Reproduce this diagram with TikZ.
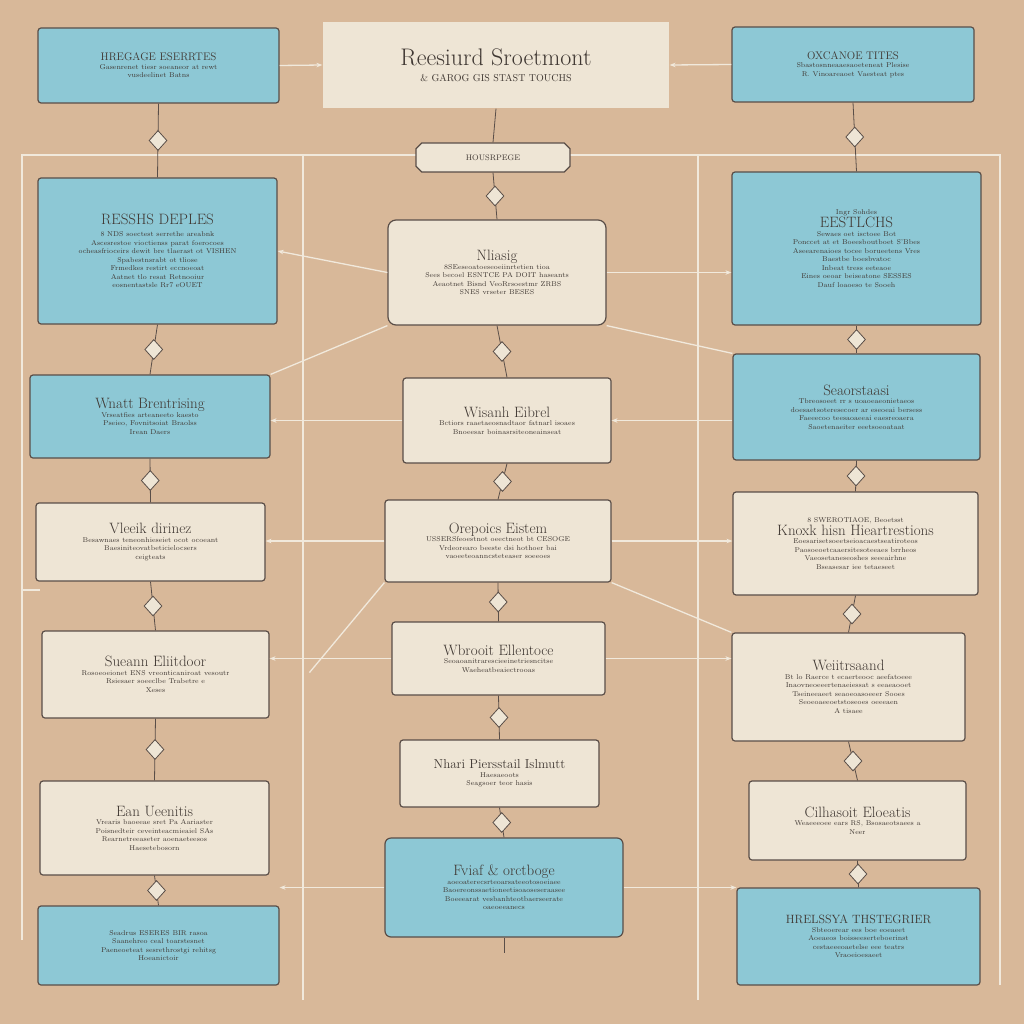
\documentclass[tikz,border=0pt]{standalone}
\usetikzlibrary{shapes.geometric,shapes.misc,arrows.meta}
\definecolor{bg}{HTML}{D8B899}
\definecolor{bl}{HTML}{8DC8D5}
\definecolor{cr}{HTML}{EEE5D5}
\definecolor{ln}{HTML}{5A4E48}
\definecolor{wl}{HTML}{F1E9DC}
\newcommand\bxt{\fontsize{15}{17}\selectfont}
\begin{document}
\begin{tikzpicture}[x=1pt,y=-1pt,
 box/.style={draw=ln,line width=1.2pt,rounded corners=3pt,align=center,font=\fontsize{7}{8.5}\selectfont,text=ln!70!black},
 bbox/.style={box,fill=bl},
 cbox/.style={box,fill=cr},
 con/.style={draw=wl,line width=1.3pt},
 arr/.style={con,-{Stealth[length=6pt]}},
 dia/.style={diamond,draw=ln,fill=cr,line width=0.8pt,minimum width=18pt,minimum height=20pt,inner sep=0pt},
 fr/.style={draw=wl,line width=1.2pt}]
\fill[bg] (0,0) rectangle (1024,1024);
% frame lines
\draw[fr] (22,940) -- (22,155) -- (416,155);
\draw[fr] (570,155) -- (1000,155) -- (1000,985);
\draw[fr] (303,155) -- (303,1000);
\draw[fr] (698,155) -- (698,1000);
\draw[fr] (22,590) -- (40,590);
% nodes
\node[cbox,minimum width=346pt,minimum height=86pt,rounded corners=0pt,draw=none] (T) at (496,65) {{\fontsize{24}{26}\selectfont Reesiurd Sroetmont}\\[8pt]{\fontsize{10}{12}\selectfont \& GAROG GIS STAST TOUCHS}};
\node[cbox,chamfered rectangle,rounded corners=0pt,minimum width=154pt,minimum height=29pt,font=\fontsize{8}{9}\selectfont] (H) at (493,157.5) {HOUSRPEGE};
\node[bbox,minimum width=241pt,minimum height=75pt] (L1) at (158.5,65.5) {{\fontsize{11}{13}\selectfont HREGAGE ESERRTES}\\Gasenrenet tiesr soeaneor at rewt\\vusdeelinet Batns};
\node[bbox,minimum width=239pt,minimum height=146pt] (L2) at (157.5,251) {{\bxt RESSHS DEPLES}\\[4pt]8 NDS soectest serrethe areabnk\\Ascesrestoe vioctienss parat foerocoes\\ocheasfrioceirs dewit bre tlaerast ot VISHEN\\Spabestnsrabt ot tliose\\Frmedkes restirt eccnoeoat\\Aatnet tlo resat Retnooiur\\eosnentastsle Rr7 eOUET};
\node[bbox,minimum width=240pt,minimum height=83pt] (L3) at (150,416.5) {{\bxt Wnatt Brentrising}\\Vrseatfies arteaneeto kaesto\\Pseieo, Fovnitsoiat Braolss\\Irean Daers};
\node[cbox,minimum width=229pt,minimum height=78pt] (L4) at (150.5,542) {{\bxt Vleeik dirinez}\\Besawnaes teneonhieseiet ocot ocoeant\\Baesiniteovatbeticielocsers\\ceigteats};
\node[cbox,minimum width=227pt,minimum height=87pt] (L5) at (155.5,674.5) {{\bxt Sueann Eliitdoor}\\Rosoeoeionet ENS vreonticaniroat vesoutr\\Rsiesaer soeeclbe Trabetre e\\Xeses};
\node[cbox,minimum width=229pt,minimum height=94pt] (L6) at (154.5,828) {{\bxt Ean Ueenitis}\\Vrearis baoeeae sret Pa Aariaster\\Poisnedteir ceveinteacmieaiel SAs\\Rearnetreeaseter aoenaeteesos\\Haesetebosorn};
\node[bbox,minimum width=241pt,minimum height=79pt] (L7) at (158.5,945.5) {Seadrus ESERES BIR rasoa\\Saanehreo ceal toarstesnet\\Paeneoeteat sesrethrostgi rehitsg\\Hoeanictoir};
\node[cbox,minimum width=218pt,minimum height=105pt,rounded corners=8pt] (C1) at (497,272.5) {{\bxt Nliasig}\\8SEeseoatoeseoeiinrtetien tioa\\Sees becoel ESNTCE PA DOIT haseants\\Aeaotnet Bisnd VeoRrsoestmr ZRBS\\SNES vrseter BESES};
\node[cbox,minimum width=208pt,minimum height=85pt] (C2) at (507,420.5) {{\bxt Wisanh Eibrel}\\Bctiors raaetaeosnadtaor fatnarl isoaes\\Bnoeesar boinasrsiteoneainseat};
\node[cbox,minimum width=226pt,minimum height=82pt] (C3) at (498,541) {{\bxt Orepoics Eistem}\\USSERSfeoestnot oeectneot bt CESOGE\\Vrdeorearo beeste dsi hothoer bai\\vaoeeteoanncsteteaser soeeoes};
\node[cbox,minimum width=213pt,minimum height=73pt] (C4) at (498.5,658.5) {{\bxt Wbrooit Ellentoce}\\Seoaoanitrarescieeinetriesncitse\\Waeheatbeaiectrooas};
\node[cbox,minimum width=199pt,minimum height=67pt] (C5) at (499.5,773.5) {{\fontsize{13}{15}\selectfont Nhari Piersstail Islmutt}\\Haesaeoots\\Seagsoer teor hasis};
\node[bbox,minimum width=238pt,minimum height=99pt,rounded corners=6pt] (C6) at (504,887.5) {{\bxt Fviaf \& orctboge}\\aoeoaterecsrteoarsateeotosoeiaee\\Baoereonssaetioneetisoaoseseraasee\\Boeeearat vesbanhteotbaerseerate\\oaeoeeanecs};
\node[bbox,minimum width=242pt,minimum height=75pt] (R1) at (853,64.5) {{\fontsize{11}{13}\selectfont OXCANOE TITES}\\Sbastosnneaaesaoeteneat Plesise\\R. Vinoareaoet Vaesteat ptes};
\node[bbox,minimum width=249pt,minimum height=153pt] (R2) at (856.5,248.5) {{\fontsize{7}{8}\selectfont Ingr Sohdes}\\{\bxt EESTLCHS}\\Sewaes oet isctoee Bot\\Ponccet at et Boeesboutboet S'Bbes\\Aseearenaioes tocee borueetens Vres\\Baestbe boesbvatoc\\Inbeat tress eeteaoe\\Eines oeoar beiseatone SESSES\\Dauf loaoeso te Sooeh};
\node[bbox,minimum width=247pt,minimum height=106pt] (R3) at (856.5,407) {{\bxt Seaorstaasi}\\Tbreosoeet rr s uoaoeaeonietaeos\\doesaetsoteresecoer ar eseoeai bersess\\Faeeecoo teesaoaeeai eaesreoaera\\Saoetenaeiter eeetsoeoataat};
\node[cbox,minimum width=245pt,minimum height=103pt] (R4) at (855.5,543.5) {8 SWEROTIAOE, Beoetsst\\{\bxt Knoxk hisn Hieartrestions}\\Eoesarisetsoeetseioacaestseatiroteos\\Paosoeoetcaaersitesoteeaes brrheos\\Vaeosetaneseoshes seeeairhne\\Bseasesar iee tetaeseet};
\node[cbox,minimum width=233pt,minimum height=108pt] (R5) at (848.5,687) {{\bxt Weiitrsaand}\\Bt lo Raerce t ecaerteooc aeefatoeee\\Inaovneoeeertenaeiessat s eeaeaooet\\Tseineeaeet seaoeoasoeeer Sooes\\Seoeoaeeoetstoseoes oeeeaen\\A tisaee};
\node[cbox,minimum width=217pt,minimum height=79pt] (R6) at (857.5,820.5) {{\bxt Cilhasoit Eloeatis}\\Weaeeeoee ears RS, Bsosaeotsaees a\\Neer};
\node[bbox,minimum width=243pt,minimum height=97pt] (R7) at (858.5,936.5) {{\fontsize{12}{14}\selectfont HRELSSYA THSTEGRIER}\\Sbteoerear ees boe eoeaeet\\Aoeaeos boisseeserteboerinst\\cestaeeeoaetelse eee teatrs\\Vraoeioesaeet};
% vertical connectors with diamonds
\foreach \a/\b in {L1/L2,L2/L3,L3/L4,L4/L5,L5/L6,L6/L7,R1/R2,R2/R3,R3/R4,R4/R5,R5/R6,R6/R7,H/C1,C1/C2,C2/C3,C3/C4,C4/C5,C5/C6}
  \draw[ln,line width=0.8pt] (\a.south) -- node[dia,pos=0.5]{} (\b.north);
\draw[ln,line width=0.8pt] (T.south) -- (H.north);
\draw[ln,line width=0.8pt] (C6.south) -- ++(0,15) coordinate (C6e);
% horizontal connectors
\draw[arr] (L1.east) -- (T.west);
\draw[arr] (R1.west) -- (T.east);
\draw[arr] (C1.west) -- (L2.east);
\draw[arr] (C1.east) -- (R2.west|-C1.east);
\draw[arr] (C2.west) -- (L3.east|-C2.west);
\draw[arr] (R3.west|-C2.east) -- (C2.east);
\draw[arr] (C3.west) -- (L4.east|-C3.west);
\draw[arr] (C3.east) -- (R4.west|-C3.east);
\draw[arr] (C4.west) -- (L5.east|-C4.west);
\draw[arr] (C4.east) -- (R5.west|-C4.east);
\draw[arr] (C6.west) -- (L7.east|-C6.west);
\draw[arr] (C6.east) -- (R7.west|-C6.east);
% diagonals
\draw[con] (C1.south west) -- (L3.north east);
\draw[con] (C1.south east) -- (R3.north west);
\draw[con] (C3.south west) -- ++(-75,90) coordinate (dl);
\draw[con] (C3.south east) -- (R5.north west);
\end{tikzpicture}
\end{document}
